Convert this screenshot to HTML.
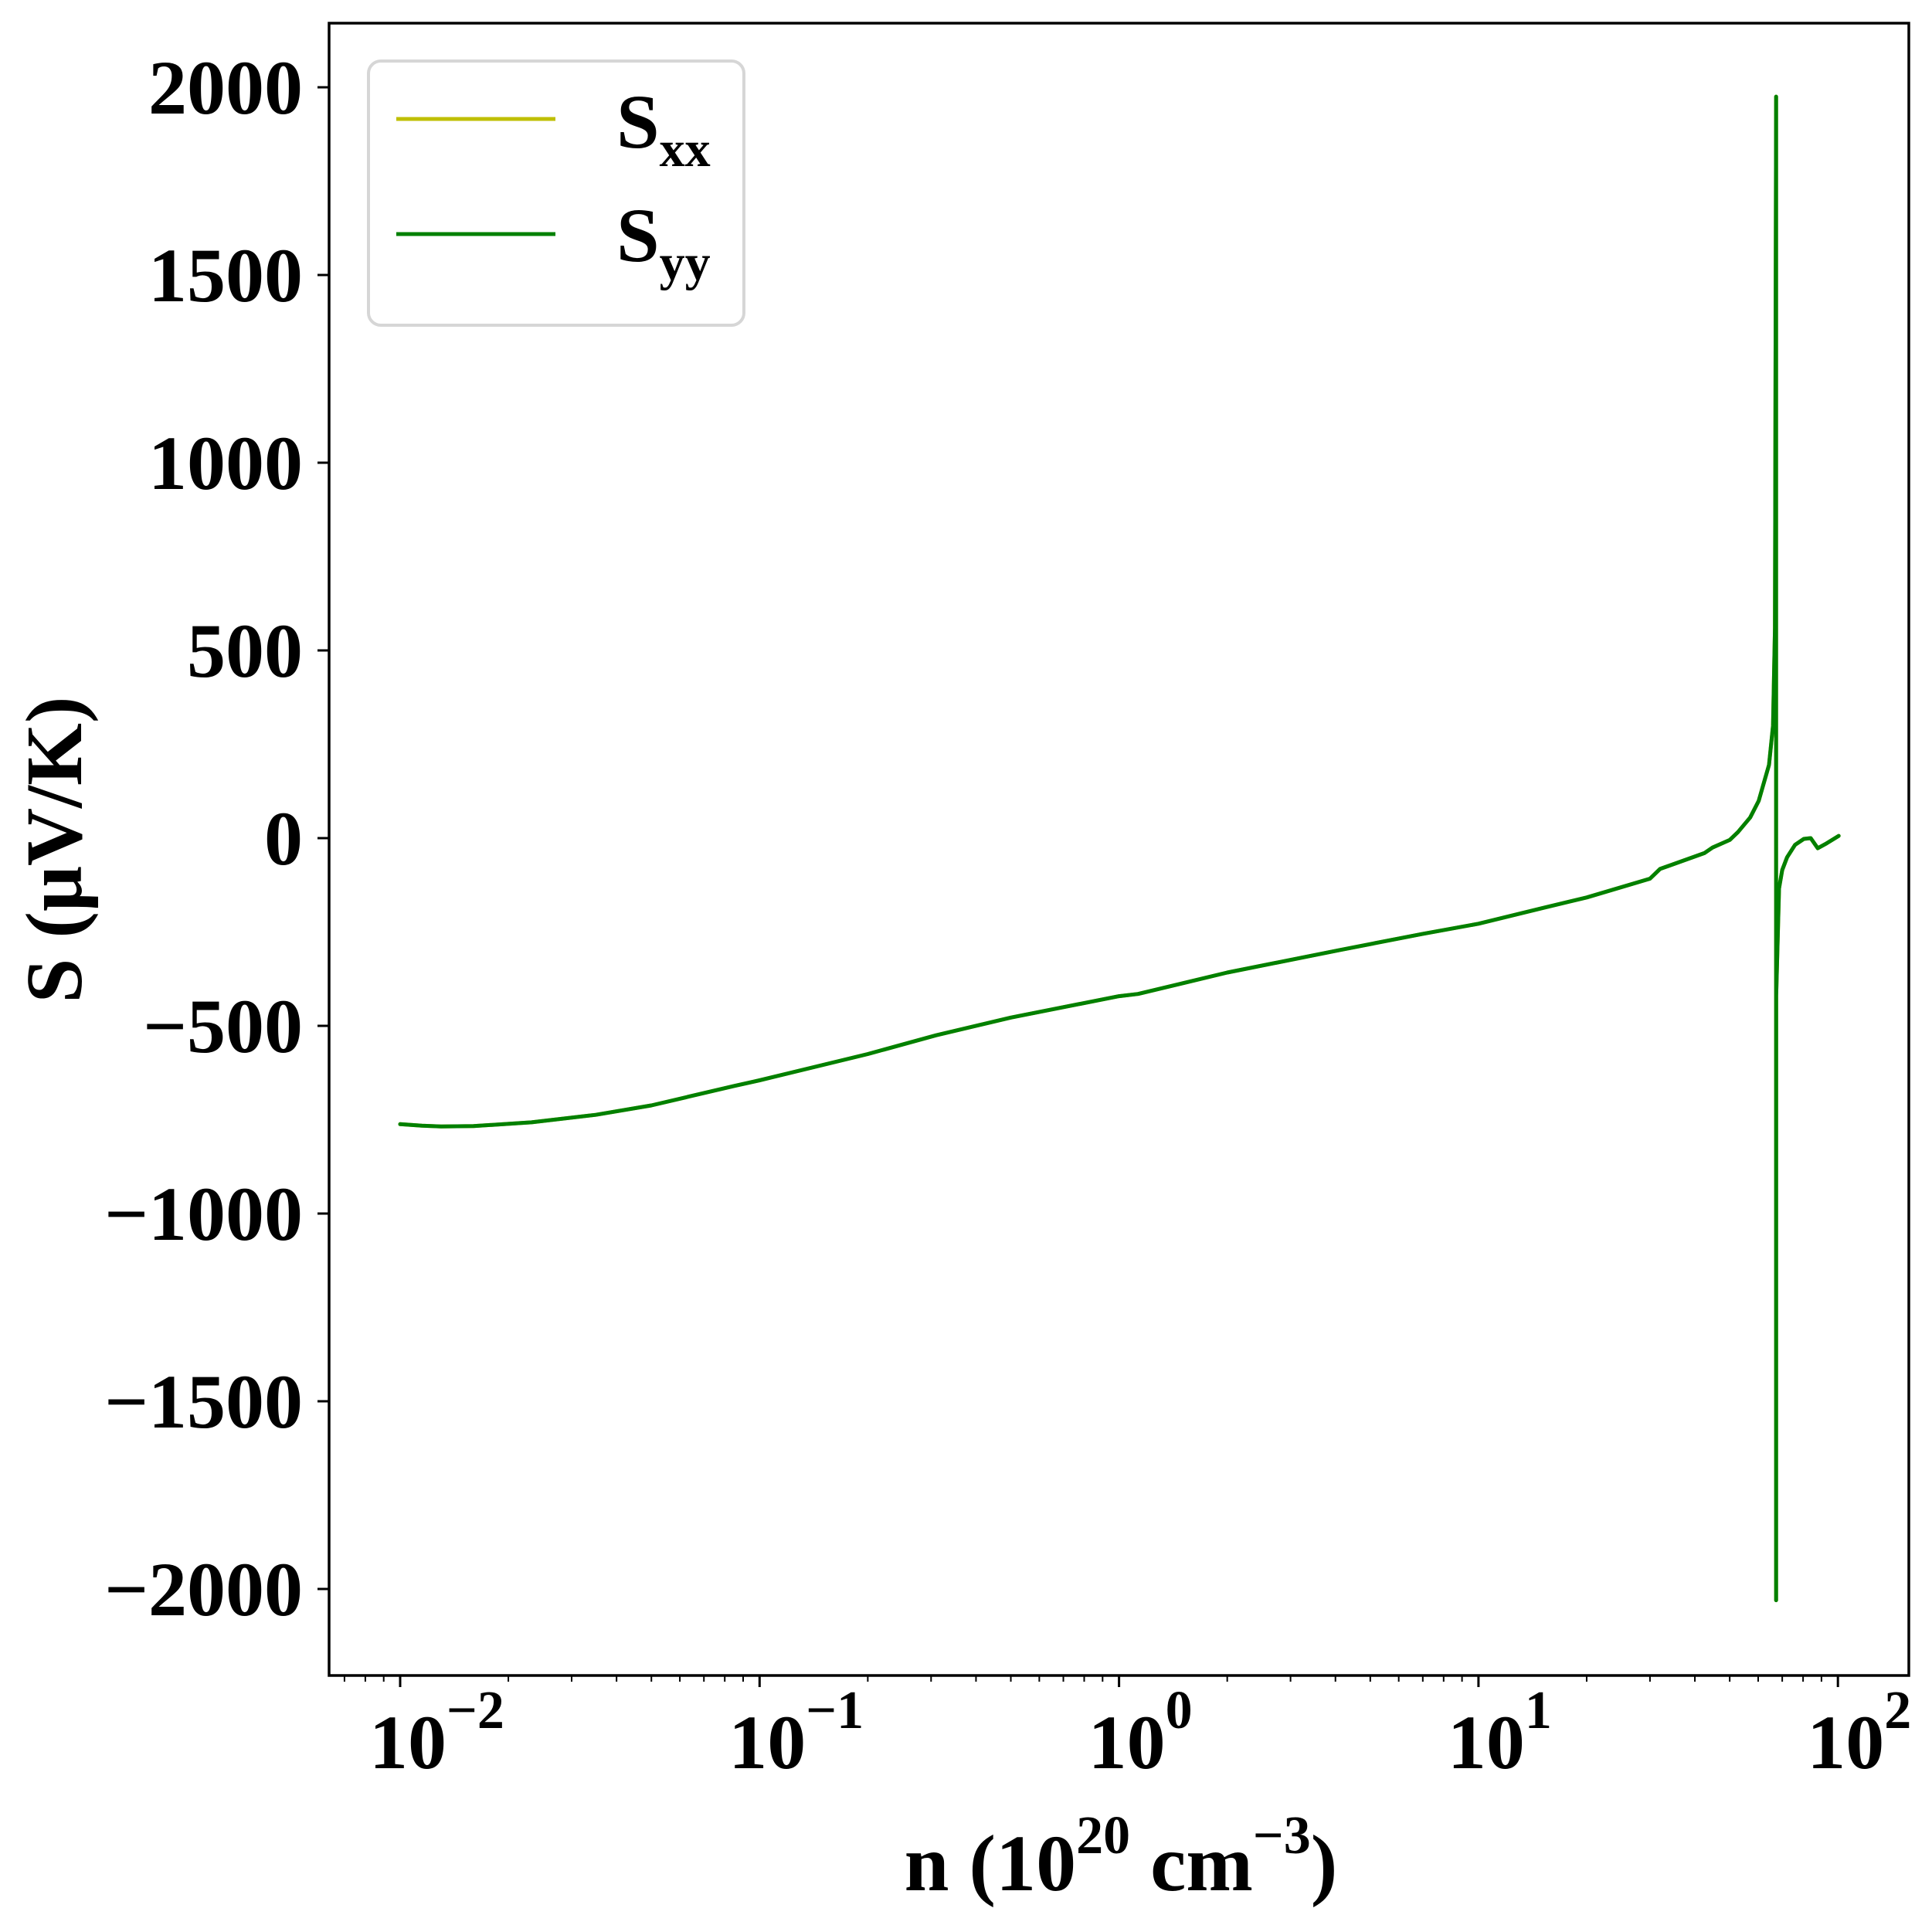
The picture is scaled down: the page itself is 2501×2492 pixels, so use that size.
<!DOCTYPE html>
<html><head><meta charset="utf-8"><style>
html,body{margin:0;padding:0;background:#fff;}
svg{display:block;font-family:"Liberation Serif",serif;font-weight:bold;}
</style></head><body>
<svg id="chart" width="2501" height="2492" viewBox="0 0 2501 2492" xmlns="http://www.w3.org/2000/svg">
<rect x="0" y="0" width="2501" height="2492" fill="#fff"/>
<g id="plot"></g>
<g id="axes"></g>
<text x="0" y="0" font-size="104" text-anchor="middle" transform="translate(105,1100) rotate(-90)">S (μV/K)</text>
<text x="1451" y="2447" font-size="104" text-anchor="middle">n (10<tspan dy="-48" font-size="70">20</tspan><tspan dy="48"> cm</tspan><tspan dy="-48" font-size="70">−3</tspan><tspan dy="48">)</tspan></text>
<g>
<rect x="477" y="79" width="486" height="342" rx="16" fill="#fff" stroke="#d6d6d6" stroke-width="4"/>
<line x1="513" y1="154" x2="719" y2="154" stroke="#bfbf00" stroke-width="5"/>
<text x="798" y="191" font-size="100">S<tspan dy="24" font-size="66">xx</tspan></text>
<line x1="513" y1="303" x2="719" y2="303" stroke="#008000" stroke-width="5"/>
<text x="798" y="338" font-size="100">S<tspan dy="24" font-size="66">yy</tspan></text>
</g>
</svg>
<script>
const nValues = [0.01,0.0115,0.013,0.016,0.0232,0.035,0.05,0.085,0.1,0.2,0.31,0.5,1.0,1.13,2,4.12,7,10,15.1,20,30,32,42.5,44.8,50,52.7,57,60.2,64.3,66,66.8,67.3,67.3,67.35,68.6,70,72.2,76,80.4,84,87.9,93,100.5];
const syyValues = [-762,-766,-768,-767,-757,-737,-712,-660,-645,-575,-525,-478,-421,-415,-358,-298,-255,-228,-186,-158,-108,-82,-40,-25,-5,16,55,99,195,300,560,1975,-2030,-420,-134,-85,-51,-18,-2,0,-27,-14,6];
const yTickValues = [-2000,-1500,-1000,-500,0,500,1000,1500,2000];
const yTickLabels = ["−2000","−1500","−1000","−500","0","500","1000","1500","2000"];
const xDecades = [-2,-1,0,1,2];
const xTickLabels = ["−2","−1","0","1","2"];

const L=426,R=2471,T=30,B=2169;
function xPix(n){return 518+(Math.log10(n)+2)*465.3;}
function yPix(v){return 1085-0.486*v;}
const NS="http://www.w3.org/2000/svg";
function mk(tag,attrs,parent){const e=document.createElementNS(NS,tag);for(const k in attrs)e.setAttribute(k,attrs[k]);parent.appendChild(e);return e;}
const plot=document.getElementById('plot'), axes=document.getElementById('axes');

// series
let d=nValues.map((n,i)=>(i?'L':'M')+xPix(n).toFixed(1)+' '+yPix(syyValues[i]).toFixed(1)).join(' ');
const sxx=mk('path',{d:d,fill:'none',stroke:'#bfbf00','stroke-width':5,'stroke-linejoin':'round','stroke-linecap':'round'},plot);


const syy=mk('path',{d:d,fill:'none',stroke:'#008000','stroke-width':5,'stroke-linejoin':'round','stroke-linecap':'round'},plot);



// frame
const fr=mk('rect',{x:L,y:T,width:R-L,height:B-T,fill:'none',stroke:'#000','stroke-width':3.5},axes);



// y ticks
yTickValues.forEach((v,i)=>{
  const y=yPix(v);
  const t=mk('line',{x1:L-15,y1:y,x2:L,y2:y,stroke:'#000','stroke-width':3},axes);
  
  
  const lb=mk('text',{x:392,y:y+34,'font-size':100,'text-anchor':'end'},axes);
  
  
  lb.textContent=yTickLabels[i];
});

// x ticks
xDecades.forEach((p,i)=>{
  const x=xPix(Math.pow(10,p));
  const t=mk('line',{x1:x,y1:B,x2:x,y2:B+15,stroke:'#000','stroke-width':3},axes);
  
  
  const lb=mk('text',{x:x-40,y:2289,'font-size':100},axes);
  
  
  lb.textContent='10';
  const sp=mk('tspan',{dy:-52,'font-size':70},lb);
  sp.textContent=xTickLabels[i];
});
for(let p=-3;p<=2;p++){for(let k=2;k<=9;k++){
  const x=xPix(k*Math.pow(10,p));
  if(x<L||x>R)continue;
  const t=mk('line',{x1:x,y1:B,x2:x,y2:B+8,stroke:'#000','stroke-width':2},axes);
  
  
}}
</script>
</body></html>
